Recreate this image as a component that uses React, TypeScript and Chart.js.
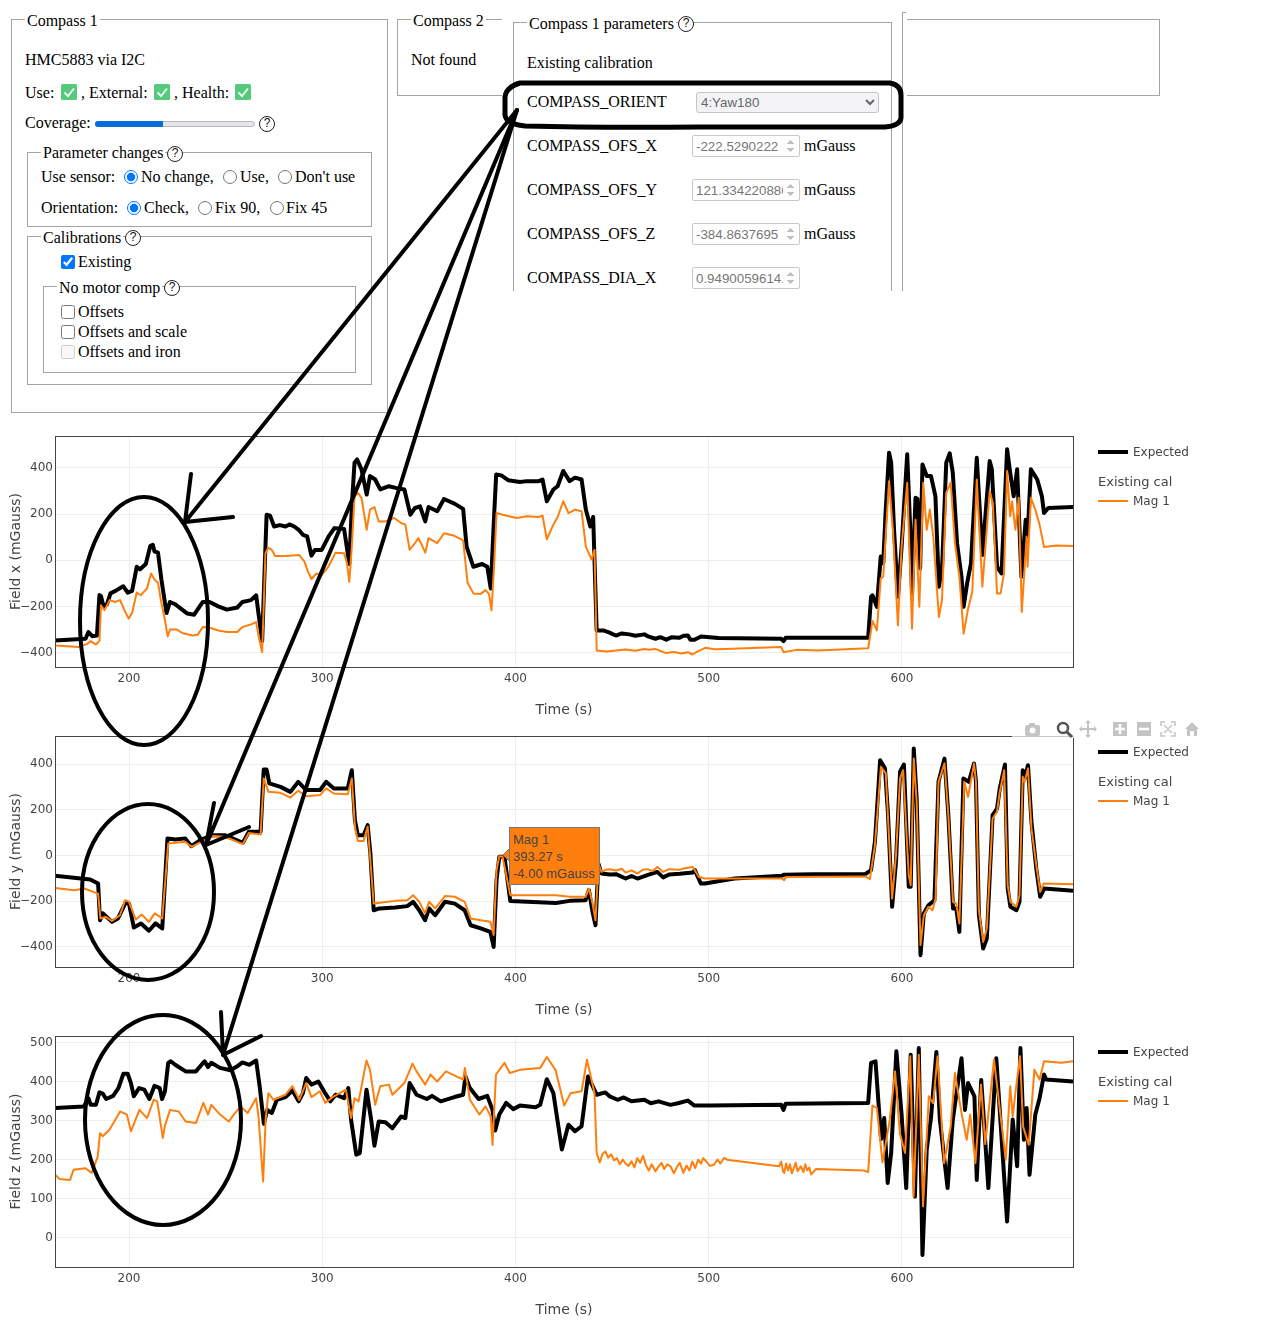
import React, { useEffect, useRef } from "react";
import { Chart, registerables } from "chart.js";

Chart.register(...registerables);

const xAxisMin = 161.7;
const xAxisMax = 688.5;
const timeTicks = [200, 300, 400, 500, 600];
const fieldXTicks = [-400, -200, 0, 200, 400];
const fieldYTicks = [-400, -200, 0, 200, 400];
const fieldZTicks = [0, 100, 200, 300, 400, 500];

const fieldXExpectedT = [161.8,177.5,179,181,183.4,184.7,185.5,186.8,188.6,190.4,193.6,197,199.3,201.6,204,205.7,208.7,211,212.3,213.2,215,216.8,219.4,221.2,223.9,227.5,230.2,233.7,238.2,241.7,246.2,250.7,256,258.7,263.1,265.8,267,268.9,270.3,271.2,273,275.1,278,281,283,285.5,288,290,292.2,294.4,296.2,299.7,303.3,306.3,311.3,314,315.3,316.7,318,320.3,323,324.7,327.4,330,334.5,338,342.5,345.6,348,350.6,353.3,355,359.5,363,368.4,372.9,374.7,378.2,382.7,385.4,387.2,389,390,392.6,396.2,402.3,405.9,412,414,416.2,419.6,421.8,424.7,428,430.8,434.2,436.4,438.7,440.2,442,445.4,448,450,452,455,458.9,462,466.7,469,472.4,475,478,481,484.7,487,489.2,490.5,492.6,496,505,537.5,538.7,539.8,582.5,584,584.7,587,589,590.3,591.5,593.3,594.4,595.9,597.9,599.8,602.7,604.3,605.2,607,608,609.4,610.6,612.8,615,617.3,619.1,620.7,622.9,624.7,626.3,628.5,630.8,631.9,633.7,635.7,638.7,641.6,645.4,646.5,649.2,651.5,654.4,656,657.8,659.6,661.8,664,665,666.7,670,672.4,673.5,675.7,688.5];
const fieldXExpectedV = [-346,-339,-310,-328,-325,-150,-155,-198,-190,-143,-129,-112,-140,-132,-28,-39,-16,62,67,38,33,-85,-228,-180,-190,-213,-230,-235,-180,-180,-199,-213,-204,-180,-172,-151,-230,-349,-13,197,193,146,152,146,155,146,130,110,103,20,45,45,103,139,135,-16,233,422,436,393,284,364,349,306,320,313,306,197,226,233,168,230,212,265,245,222,59,-28,-16,-28,-122,204,371,367,346,338,342,342,349,255,306,320,386,342,357,349,219,146,187,-303,-303,-310,-318,-325,-316,-320,-326,-320,-330,-339,-332,-343,-332,-335,-326,-325,-343,-343,-329,-336,-339,-349,-335,-335,-158,-151,-201,16,-13,204,465,422,132,-158,59,458,132,-143,270,265,-35,414,364,364,277,-114,-42,422,462,378,74,-71,-201,-100,-13,443,23,429,393,-28,-57,480,378,277,393,-71,175,103,393,349,277,204,226,230];

const fieldXMagT = [161.8,174,178.4,180.2,182.9,184.7,185.5,187.3,190,192.7,195.4,198,199.8,201.6,204,206,209.3,211.4,213.2,215,216.8,218.6,220,221.2,224.8,227.5,232.8,235.5,238.2,241.7,246.2,250.7,256,258.7,263.1,265.8,267,268.9,270.6,272,273.9,275.6,281,288,290.8,292.6,294.4,297,299.7,303,306.9,311.3,312.8,314,315.3,316.7,318.5,320.3,323,324.7,327,329.2,332.7,337.2,340.8,343,345.2,348,349.7,351.5,353.3,355,359.5,363,368.4,372.9,375.2,378.2,381.8,384.5,386.3,387.6,389,390.2,393.4,400.5,405.9,412,414,416.2,419.6,421.8,424.7,427.4,430.8,434.2,436.4,439.3,440.9,442,447,452,457,462,466.7,469,472.4,475,478,482,486,489.2,491.5,494,498.2,503,508.3,537.5,538.7,545.4,556.6,582.5,584,584.7,587,589,590.3,593.3,595.3,597.9,599.8,602.7,605.2,607,609,611,612.8,614.4,616.2,619.1,620.7,622.9,625.2,627.4,629.7,631.9,634.2,636.4,638.7,641.6,645.4,647,649.2,651,652.8,654.4,656,657,658.7,660.4,662,664.5,665,666.7,669,671.2,673.5,680.2,688.5];
const fieldXMagV = [-368,-375,-361,-349,-364,-349,-194,-216,-172,-180,-172,-223,-252,-228,-139,-151,-122,-57,-83,-97,-187,-259,-329,-299,-299,-314,-325,-322,-288,-291,-303,-310,-310,-288,-277,-267,-325,-397,30,55,45,19,19,23,-6,-49,-81,-57,-64,-30,33,30,-13,-93,59,277,291,270,132,219,230,168,168,183,161,154,45,74,96,67,33,96,74,117,106,86,-97,-143,-146,-129,-146,-216,-13,204,197,183,190,187,193,91,154,187,255,204,219,212,59,4,45,-390,-394,-390,-385,-391,-383,-386,-383,-392,-401,-396,-403,-397,-407,-395,-378,-384,-383,-375,-397,-387,-390,-380,-303,-262,-303,-78,-71,342,132,-281,59,335,-296,175,-201,335,132,219,103,-245,-172,291,335,74,-71,-317,-209,-136,349,-114,299,248,-143,-143,-57,386,190,255,132,270,-223,103,-28,270,219,154,57,64,62];

const fieldYExpectedT = [161.4,179.9,184,185,186.5,191.2,194.3,198.4,200,202.5,206.2,210.3,213.7,217.2,219.9,224,229.1,232.3,237.3,243.5,249.6,258.9,262,268.1,269.7,271.2,272.6,278.4,283.5,287.6,291.7,298.9,302,306,313.2,315.3,316.9,318.4,321.4,323.5,324.9,326.6,329.6,337.8,344,347,350.2,353.2,355.3,358.4,363.5,368.6,373.7,376.8,382,387,388.7,390.2,391.6,394.3,397.3,420.9,428,436.3,438,439.7,441.4,442.9,444.5,448.8,452,457,460,463.1,468.2,473.4,476.4,479.5,485,491.8,492.8,495.9,498,513.3,537.9,538.8,554.3,581,584,586,588.7,591.2,592.8,594.9,596.9,599,601,603.5,604.5,606.1,607.6,609.6,611.3,613.7,616.8,618.9,622,624,626.4,628.1,629.7,631.8,634.6,637.3,638.3,639.8,642,643.9,646.9,649.2,650.6,653.3,654.7,656.1,659.2,660.8,662.5,663.5,665.2,667,669.5,671.5,673.6,688.5];
const fieldYExpectedV = [-89,-105,-123,-284,-254,-291,-276,-203,-211,-316,-298,-330,-298,-320,75,70,75,41,70,89,89,56,104,104,377,377,316,301,279,323,287,287,323,294,294,374,155,89,89,133,9,-240,-232,-228,-222,-203,-240,-284,-232,-262,-203,-211,-240,-306,-320,-335,-401,-108,-6,-6,-200,-208,-199,-196,-152,-240,-306,-35,-79,-83,-82,-101,-90,-101,-86,-72,-96,-83,-80,-75,-64,-123,-123,-101,-89,-85,-82,-82,-64,60,418,382,177,-225,-28,367,399,-137,-137,469,250,-437,-254,-218,-196,323,425,177,-232,-232,-335,338,323,403,323,-262,-408,-364,177,206,294,399,-145,-225,-240,-203,374,338,396,148,-57,-181,-145,-155];

const fieldYMagT = [161.4,171.7,176.8,184,185.2,188,191.2,195.3,198,200,203.5,206.6,210.3,213.3,217.2,220.3,224,229.1,232.3,237.3,243.5,249.6,258.9,262,268.1,269.7,272.2,278.4,283.5,287.6,291.7,298.9,302,306,313.2,315.3,316.9,318.4,321.4,323.5,324.9,326.6,333.7,337.8,344,347,350.2,353.2,355.3,358.4,363.5,368.6,373.7,376.8,382,387,388.7,390.2,391.6,393.27,397.3,420.9,428,436.3,438,439.7,441.4,442.9,444.5,447,448.8,452,455,457,460,463.1,466,468.2,471,473.4,476.4,479.5,485,488,491.8,494.9,498,513.3,537.9,539,540,581,583.4,586,589.1,591.6,594.9,596.9,599,600.6,603.5,604.5,606.1,607.6,609.6,611.3,613.7,615.8,617.4,618.9,622,624,626.4,628.1,629.7,632.2,634.2,637.3,638.3,639.8,642,643.9,646.9,649.2,650.6,652.9,654.7,656.1,659.2,660.8,662.5,663.5,665.2,667,669.5,671.5,673.3,688.5];
const fieldYMagV = [-142,-152,-145,-167,-276,-269,-287,-262,-196,-203,-281,-259,-291,-254,-276,53,56,60,38,60,85,82,50,99,92,338,279,275,254,284,260,265,294,272,269,338,126,64,64,126,-20,-211,-203,-199,-196,-174,-203,-254,-203,-232,-178,-181,-203,-276,-284,-291,-349,-64,-3,-4,-174,-174,-181,-181,-145,-203,-284,-35,-72,-62,-60,-66,-58,-75,-65,-79,-62,-60,-68,-50,-72,-60,-62,-55,-50,-94,-101,-101,-101,-108,-94,-92,-104,45,389,360,-189,1,338,374,-86,-130,425,235,-393,-262,-225,-240,-189,323,404,177,-203,-211,-298,323,257,403,323,-240,-379,-320,162,192,279,374,-130,-203,-225,-174,345,323,382,118,-42,-159,-123,-126];

const fieldZExpectedT = [161.8,176.6,179,180.2,182.9,184.7,186.4,188.2,191.8,194.5,197.1,199.3,201,202.5,205.2,207.9,210.5,213.2,215.9,217.1,218.6,220.3,221.6,223.9,229.3,234.6,239.1,240.9,242.6,247.1,252.5,256,258.7,262.3,265.8,267.6,269.8,271.5,273.9,276.5,281,284.6,287.8,290,291.7,294.4,298,301.5,304.2,306.9,311.3,313.5,314.9,317.6,319.4,322.9,325.3,327,329.2,332.7,336.3,340.8,343,345.2,348.8,354.1,356.8,361.3,368.4,372.9,374.1,376.4,380.9,385.4,388.1,389.5,391.6,395.2,398.8,402.3,410.4,412.8,416.2,419.6,424,427.4,430.8,434.2,437.5,442,446.5,449,452.8,456,460,466.7,470,474,480.2,484,489.2,492.6,500.4,537.5,538.7,539.8,582.5,584,586.3,589.2,590.8,592.6,594.4,597.1,599.8,602.2,604.5,606.7,608.7,610.6,612.8,615,617.8,619.6,623.6,626.3,630.8,632.6,634.2,637.5,638.7,641,644.7,648.8,654.4,657.3,659.6,661.3,663.1,664.5,666,669,671.2,673.5,674.6,688.5];
const fieldZExpectedV = [333,337,358,341,341,373,370,356,364,384,421,421,397,363,384,380,356,390,384,356,376,449,453,444,427,427,453,438,449,436,430,440,450,444,455,389,292,328,320,354,361,378,350,371,410,393,401,371,350,367,358,384,303,213,217,380,303,236,298,296,281,311,307,397,367,356,364,350,361,367,414,384,356,364,328,275,316,346,330,339,335,341,407,371,226,290,273,286,414,367,373,362,354,360,350,354,345,350,341,345,352,339,339,341,328,344,346,449,453,253,307,140,217,479,316,127,470,105,487,-45,226,307,477,303,127,303,461,328,397,363,148,405,127,461,41,303,183,487,251,333,161,316,358,419,406,401];

const fieldZMagT = [161.8,164.1,169.5,171.3,177.5,180.7,183.8,185,186.4,189.9,195.4,198.9,201,205.4,209.3,212.8,214.6,217.5,218.6,221.2,225.7,229.3,234.6,238.5,240.9,242.6,247.1,251.6,254.2,257.8,261.4,265.8,267,269.4,270.7,272.1,274.8,281,284.6,288.1,291.7,294.4,298.8,301.5,306,312.2,314.9,316.7,318.8,322.9,324.7,327.4,330,334.5,336.3,342.5,346.7,348.8,353.3,356,359.5,364,372.9,373.8,376.4,381.3,384.5,387.2,388.1,389.9,394.3,397,402.3,412.8,416.2,420.7,425.2,428.5,434.2,437,440.9,442,443.6,445,446.5,448,449.5,451,452.5,454,455.5,457,458.5,460,461.5,463,464.5,466,467.5,469,470.5,472.4,474,475.5,477,478.5,480.2,482,483.5,485,486.9,488.5,490,491.5,493,494.5,496,497.1,499,500.5,502.7,504.5,506,508,509.4,536.4,537.5,538.5,539.1,540,541,542,543,544,545,546,547.6,549,550,551,552,553,554.4,555.5,580.2,582.5,584.7,587,589.9,593.7,596.4,598.9,601.6,604.3,606,608.7,610.9,613.9,616.1,618.4,621.8,625.2,627.4,630.8,633.5,635.3,638,640.9,643.1,647.6,653.7,656,657.3,658.9,661.1,662.7,665.6,668.5,671.2,673.5,682.5,688.5];
const fieldZMagV = [161,150,148,174,178,166,208,268,260,277,324,316,273,328,307,354,350,256,287,328,324,298,294,346,316,341,316,298,316,337,320,358,311,144,303,371,354,367,389,354,397,361,376,346,363,380,307,358,350,455,431,341,389,393,367,397,447,427,393,419,401,427,406,436,354,316,337,311,238,419,449,423,431,436,464,431,339,371,376,457,371,217,193,215,221,205,214,198,204,188,200,190,184,196,180,204,192,210,186,172,188,170,182,192,176,188,183,165,181,192,166,185,172,195,178,200,190,204,194,184,187,200,190,205,200,183,195,170,166,190,172,188,165,178,192,170,183,168,188,172,180,162,170,176,172,168,339,333,193,303,427,268,217,466,105,470,80,363,345,466,191,285,423,320,251,316,191,393,240,457,200,389,311,380,466,285,238,431,406,453,449,453];

const plots = [
  { title: "Field x (mGauss)", top: 420, yMin: -461, yMax: 537, yTicks: fieldXTicks, exT: fieldXExpectedT, exV: fieldXExpectedV, magT: fieldXMagT, magV: fieldXMagV },
  { title: "Field y (mGauss)", top: 720, yMin: -489, yMax: 524, yTicks: fieldYTicks, exT: fieldYExpectedT, exV: fieldYExpectedV, magT: fieldYMagT, magV: fieldYMagV },
  { title: "Field z (mGauss)", top: 1020, yMin: -76, yMax: 518, yTicks: fieldZTicks, exT: fieldZExpectedT, exV: fieldZExpectedV, magT: fieldZMagT, magV: fieldZMagV },
];

const TICK_FONT = "'DejaVu Sans', sans-serif";
const SERIF = "'Liberation Serif', serif";
const INK = "#444";
const FRAME = "#a4a4a4";

const framePlugin = {
  id: "plotFrame",
  afterDraw(chart: any) {
    const { ctx, chartArea: a } = chart;
    ctx.save();
    ctx.strokeStyle = "#444";
    ctx.lineWidth = 1;
    ctx.strokeRect(a.left + 0.5, a.top + 0.5, a.right - a.left, a.bottom - a.top);
    ctx.restore();
  },
};

function zip(t: number[], v: number[]) {
  return t.map((x, i) => ({ x, y: v[i] }));
}

function Plot({ p }: { p: (typeof plots)[number] }) {
  const ref = useRef<HTMLCanvasElement>(null);
  useEffect(() => {
    const chart = new Chart(ref.current!, {
      type: "line",
      data: {
        datasets: [
          { label: "Expected", data: zip(p.exT, p.exV), borderColor: "#000", borderWidth: 4, pointRadius: 0, tension: 0, order: 2, borderJoinStyle: "round" },
          { label: "Mag 1", data: zip(p.magT, p.magV), borderColor: "#ff7f0e", borderWidth: 2, pointRadius: 0, tension: 0, order: 1, borderJoinStyle: "round" },
        ],
      },
      options: {
        animation: false,
        responsive: false,
        devicePixelRatio: 1,
        layout: { autoPadding: false, padding: { top: 16, right: 202, bottom: 0, left: 0 } },
        plugins: { legend: { display: false }, tooltip: { enabled: false } },
        scales: {
          x: {
            type: "linear",
            min: xAxisMin,
            max: xAxisMax,
            afterBuildTicks: (s: any) => { s.ticks = timeTicks.map((value) => ({ value })); },
            grid: { color: "#eee", drawTicks: false },
            border: { display: false },
            ticks: { maxRotation: 0, padding: 5, color: INK, font: { family: TICK_FONT, size: 12 } },
            title: { display: true, text: "Time (s)", color: INK, font: { family: TICK_FONT, size: 14 }, padding: { top: 0, bottom: 1 } },
            afterFit: (s: any) => { s.height = 53; },
          },
          y: {
            min: p.yMin,
            max: p.yMax,
            afterBuildTicks: (s: any) => { s.ticks = p.yTicks.map((value) => ({ value })); },
            grid: { color: "#eee", drawTicks: false },
            border: { display: false },
            ticks: {
              padding: 2,
              color: INK,
              font: { family: TICK_FONT, size: 12 },
              callback: (v: any) => String(v).replace("-", "\u2212"),
            },
            title: { display: true, text: p.title, color: INK, font: { family: TICK_FONT, size: 14 }, padding: { top: 8, bottom: 0 } },
            afterFit: (s: any) => { s.width = 55; },
          },
        },
      } as any,
      plugins: [framePlugin],
    });
    return () => chart.destroy();
  }, []);
  return <canvas ref={ref} width={1275} height={300} style={{ position: "absolute", left: 0, top: p.top, width: 1275, height: 300, display: "block" }} />;
}

function T({ x, y, c, style }: { x: number; y: number; c: string; style?: any }) {
  return (
    <span style={{ position: "absolute", left: x, top: y - 10, lineHeight: "20px", fontFamily: SERIF, fontSize: 16, color: "#000", whiteSpace: "nowrap", ...style }}>
      {c}
    </span>
  );
}

function Box({ x, y, w, h, noBottom, noRight }: { x: number; y: number; w: number; h: number; noBottom?: boolean; noRight?: boolean }) {
  const line = `1.5px solid ${FRAME}`;
  return (
    <div style={{ position: "absolute", left: x, top: y, width: w, height: h, boxSizing: "border-box", borderTop: line, borderLeft: line, borderRight: noRight ? "none" : line, borderBottom: noBottom ? "none" : line, background: "#fff" }} />
  );
}

function Legend({ x, y, c }: { x: number; y: number; c: string }) {
  return <T x={x} y={y} c={c} style={{ background: "#fff", padding: "0 2px", marginLeft: -2 }} />;
}

function Q({ x, y }: { x: number; y: number }) {
  return (
    <span style={{ position: "absolute", left: x - 8, top: y - 8, width: 16, height: 16, boxSizing: "border-box", border: "1.4px solid #222", borderRadius: "50%", background: "#fff", fontFamily: "'Liberation Sans', sans-serif", fontSize: 12, lineHeight: "13px", textAlign: "center", color: "#111" }}>?</span>
  );
}

function Green({ x, y }: { x: number; y: number }) {
  return (
    <svg width={16} height={16} style={{ position: "absolute", left: x, top: y }}>
      <rect width={16} height={16} rx={1.5} fill="#55c97c" />
      <path d="M3.5 8.5 L7 12 L13 4.5" fill="none" stroke="#eafff0" strokeWidth={2} />
    </svg>
  );
}

function Radio({ x, y, on }: { x: number; y: number; on?: boolean }) {
  return <input type="radio" defaultChecked={!!on} name={`r${y}-${x}`} style={{ position: "absolute", left: x - 7, top: y - 7, width: 14, height: 14, margin: 0 }} />;
}

function Check({ x, y, on, off }: { x: number; y: number; on?: boolean; off?: boolean }) {
  return <input type="checkbox" defaultChecked={!!on} disabled={!!off} style={{ position: "absolute", left: x, top: y, width: 14, height: 14, margin: 0 }} />;
}

function Num({ y, v }: { y: number; v: string }) {
  return (
    <input type="number" disabled defaultValue={v} style={{ position: "absolute", left: 692, top: y, width: 108, height: 22, boxSizing: "border-box", margin: 0, fontFamily: "'Liberation Sans', sans-serif", fontSize: 13.33, padding: "1px 1px 1px 3px", color: "#777", background: "#fff", border: "1px solid #c8c8c8", borderRadius: 2 }} />
  );
}

function TopForm() {
  return (
    <>
      <style>{`input[type=number]::-webkit-inner-spin-button{opacity:.55;width:18px;margin:0}`}</style>
      <Box x={11} y={19} w={377} h={394} />
      <Legend x={27} y={21} c="Compass 1" />
      <T x={25} y={60} c="HMC5883 via I2C" />
      <T x={25} y={93} c="Use:" />
      <Green x={61} y={84} />
      <T x={81} y={93} c=", External:" />
      <Green x={154} y={84} />
      <T x={174} y={93} c=", Health:" />
      <Green x={235} y={84} />
      <T x={25} y={123} c="Coverage:" />
      <div style={{ position: "absolute", left: 95, top: 121, width: 160, height: 6, boxSizing: "border-box", background: "#e6e6ea", border: "1px solid #b8b8c0", borderRadius: 3 }} />
      <div style={{ position: "absolute", left: 95, top: 121, width: 68, height: 6, background: "#0a6bdc", borderRadius: "3px 0 0 3px" }} />
      <Q x={267} y={124} />

      <Box x={27} y={152} w={345} h={75} />
      <Legend x={43} y={153} c="Parameter changes" />
      <Q x={175} y={154} />
      <T x={41} y={177} c="Use sensor:" />
      <Radio x={131} y={177} on />
      <T x={141} y={177} c="No change," />
      <Radio x={230} y={177} />
      <T x={240} y={177} c="Use," />
      <Radio x={285} y={177} />
      <T x={295} y={177} c="Don't use" />
      <T x={41} y={208} c="Orientation:" />
      <Radio x={134} y={208} on />
      <T x={144} y={208} c="Check," />
      <Radio x={205} y={208} />
      <T x={215} y={208} c="Fix 90," />
      <Radio x={277} y={208} />
      <T x={286} y={208} c="Fix 45" />

      <Box x={27} y={236} w={345} h={149} />
      <Legend x={43} y={238} c="Calibrations" />
      <Q x={133} y={238} />
      <Check x={61} y={255} on />
      <T x={78} y={262} c="Existing" />
      <Box x={43} y={286} w={313} h={87} />
      <Legend x={59} y={288} c="No motor comp" />
      <Q x={172} y={288} />
      <Check x={61} y={305} />
      <T x={78} y={312} c="Offsets" />
      <Check x={61} y={325} />
      <T x={78} y={332} c="Offsets and scale" />
      <Check x={61} y={345} off />
      <T x={78} y={352} c="Offsets and iron" />

      <Box x={397} y={19} w={105} h={77} noRight />
      <Legend x={413} y={21} c="Compass 2" />
      <T x={411} y={60} c="Not found" />

      <Box x={513} y={22} w={379} h={269} noBottom />
      <Legend x={529} y={24} c="Compass 1 parameters" />
      <Q x={686} y={24} />
      <T x={527} y={63} c="Existing calibration" />
      <T x={527} y={102} c="COMPASS_ORIENT" />
      <select disabled defaultValue="4" style={{ position: "absolute", left: 696, top: 92, width: 183, height: 21, margin: 0, fontFamily: "'Liberation Sans', sans-serif", fontSize: 13.33, color: "#666", background: "#f3f3f6", border: "1px solid #c4c4c8", borderRadius: 3, opacity: 1 }}>
        <option value="4">4:Yaw180</option>
      </select>
      <T x={527} y={146} c="COMPASS_OFS_X" />
      <Num y={135} v="-222.5290222" />
      <T x={804} y={146} c="mGauss" />
      <T x={527} y={190} c="COMPASS_OFS_Y" />
      <Num y={179} v="121.33422088623" />
      <T x={804} y={190} c="mGauss" />
      <T x={527} y={234} c="COMPASS_OFS_Z" />
      <Num y={223} v="-384.8637695" />
      <T x={804} y={234} c="mGauss" />
      <T x={527} y={278} c="COMPASS_DIA_X" />
      <Num y={267} v="0.9490059614181" />

      <div style={{ position: "absolute", left: 902, top: 12, width: 4, height: 279, borderLeft: `1.5px solid ${FRAME}`, borderTop: `1.5px solid ${FRAME}`, boxSizing: "border-box" }} />
      <div style={{ position: "absolute", left: 907, top: 19, width: 253, height: 77, boxSizing: "border-box", borderTop: `1.5px solid ${FRAME}`, borderRight: `1.5px solid ${FRAME}`, borderBottom: `1.5px solid ${FRAME}` }} />
    </>
  );
}

function PlotLegend({ top }: { top: number }) {
  const lab = { position: "absolute", fontFamily: TICK_FONT, fontSize: 12, color: INK, lineHeight: "16px", whiteSpace: "nowrap" } as any;
  return (
    <>
      <div style={{ position: "absolute", left: 1098, top: top + 30, width: 30, height: 4, background: "#000" }} />
      <span style={{ ...lab, left: 1133, top: top + 24 }}>Expected</span>
      <span style={{ ...lab, left: 1098, top: top + 54, fontSize: 13 }}>Existing cal</span>
      <div style={{ position: "absolute", left: 1098, top: top + 80, width: 30, height: 2, background: "#ff7f0e" }} />
      <span style={{ ...lab, left: 1133, top: top + 73 }}>Mag 1</span>
    </>
  );
}

function HoverLabel() {
  return (
    <>
      <svg width={10} height={16} style={{ position: "absolute", left: 501, top: 847 }}>
        <path d="M9 1 L2 8 L9 15 Z" fill="#ff7f0e" stroke="#777" strokeWidth={1} />
      </svg>
      <div style={{ position: "absolute", left: 509, top: 827, width: 91, height: 58, boxSizing: "border-box", background: "#ff7f0e", border: "1px solid #777", padding: "3px 3px", fontFamily: "'Liberation Sans', sans-serif", fontSize: 13, lineHeight: "17px", color: "#444", whiteSpace: "nowrap" }}>
        Mag 1<br />393.27 s<br />-4.00 mGauss
      </div>
    </>
  );
}

function ModeBar() {
  const g = "#c4c4c4";
  return (
    <>
      <div style={{ position: "absolute", left: 1012, top: 722, width: 190, height: 16, background: "rgba(255,255,255,0.7)" }} />
      <svg width={200} height={24} style={{ position: "absolute", left: 1015, top: 717 }}>
        <rect x={10} y={8} width={15} height={11} rx={2} fill={g} />
        <rect x={14} y={6} width={6} height={3} fill={g} />
        <circle cx={17.5} cy={13.5} r={3} fill="#fff" />
        <circle cx={48} cy={11} r={5} fill="#fff" stroke="#555" strokeWidth={2.5} />
        <path d="M52 15 L57 20" stroke="#555" strokeWidth={3} />
        <path d="M67 12 H79 M73 6 V18" stroke={g} strokeWidth={2} />
        <path d="M64 12 l3 -3 v6 z M82 12 l-3 -3 v6 z M73 3 l-3 3 h6 z M73 21 l-3 -3 h6 z" fill={g} />
        <rect x={98} y={5} width={14} height={14} fill={g} />
        <path d="M100 12 H110 M105 7 V17" stroke="#fff" strokeWidth={2.5} />
        <rect x={122} y={5} width={14} height={14} fill={g} />
        <path d="M124 12 H134" stroke="#fff" strokeWidth={2.5} />
        <path d="M146 9 V5 H150 M156 5 H160 V9 M160 15 V19 H156 M150 19 H146 V15 M149 8 L157 16 M157 8 L149 16" fill="none" stroke={g} strokeWidth={1.5} />
        <path d="M170 12 L177 5 L184 12 H182 V19 H179 V14 H175 V19 H172 V12 Z" fill={g} />
      </svg>
    </>
  );
}

function Annotations() {
  const ink = { fill: "none", stroke: "#000", strokeWidth: 4, strokeLinecap: "round", strokeLinejoin: "round" } as any;
  return (
    <svg width={1275} height={1343} style={{ position: "absolute", left: 0, top: 0, pointerEvents: "none" }}>
      <ellipse cx={144} cy={621} rx={64} ry={124} {...ink} />
      <ellipse cx={148} cy={892} rx={66} ry={88} {...ink} />
      <ellipse cx={163} cy={1120} rx={78} ry={105} {...ink} />
      <path d="M520 83 H890 Q901 85 901 95 V118 Q900 126 885 127 H700 Q600 128 525 126 Q506 124 505 115 V97 Q506 87 520 83 Z" {...ink} strokeWidth={5} />
      <path d="M517 110 L185 522 M185 522 L191 474 M185 522 L233 517" {...ink} />
      <path d="M517 110 L206 845 M206 845 L214 803 M206 845 L249 827" {...ink} />
      <path d="M517 110 L223 1055 M223 1055 L221 1012 M223 1055 L261 1036" {...ink} />
    </svg>
  );
}

export default function App() {
  return (
    <div style={{ position: "absolute", left: 0, top: 0, width: 1275, height: 1343, background: "#fff", overflow: "hidden" }}>
      {plots.map((p) => (
        <Plot key={p.title} p={p} />
      ))}
      {plots.map((p) => (
        <PlotLegend key={p.title} top={p.top} />
      ))}
      <ModeBar />
      <HoverLabel />
      <TopForm />
      <Annotations />
    </div>
  );
}
